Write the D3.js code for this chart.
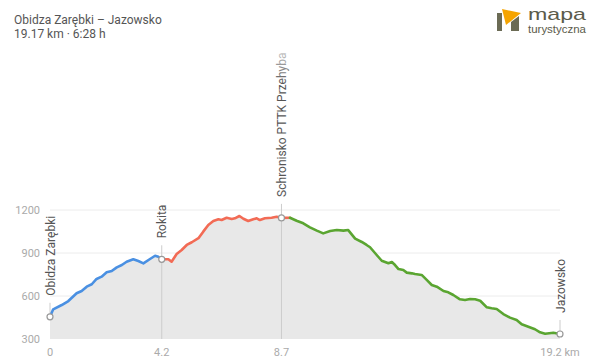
<!DOCTYPE html>
<html><head><meta charset="utf-8">
<script src="https://cdn.jsdelivr.net/npm/d3@7"></script>
<style>body{margin:0;background:#fff;}svg{display:block;font-family:Roboto,"Noto Sans",sans-serif;}</style>
</head><body><svg id="c" width="600" height="362"></svg>
<script>
const title = "Obidza Zarębki – Jazowsko";
const subtitle = "19.17 km · 6:28 h";
const km = [0,0.12,0.44,0.69,1.0,1.19,1.38,1.57,1.75,1.94,2.13,2.32,2.51,2.70,2.88,3.13,3.32,3.51,3.76,3.95,4.07,4.2,4.45,4.57,4.76,4.95,5.14,5.33,5.58,5.76,5.95,6.14,6.33,6.45,6.64,6.83,6.95,7.12,7.27,7.45,7.64,7.77,7.89,8.08,8.33,8.52,8.7,9.02,9.27,9.52,9.77,10.03,10.27,10.53,10.78,11.03,11.21,11.47,11.72,11.9,12.03,12.28,12.47,12.72,12.85,12.97,13.1,13.28,13.41,13.6,13.72,13.97,14.16,14.35,14.54,14.79,14.97,15.16,15.41,15.6,15.79,15.98,16.17,16.42,16.6,16.79,17.04,17.29,17.54,17.73,17.98,18.23,18.42,18.61,18.92,19.17];
const elev = [455,507,537,565,619,635,665,682,719,735,765,774,800,816,839,856,844,828,858,881,874,856,856,839,893,921,956,975,1003,1049,1095,1123,1135,1130,1146,1137,1142,1158,1139,1123,1135,1142,1130,1142,1146,1153,1145,1146,1125,1107,1079,1056,1037,1053,1060,1056,1060,1000,977,956,940,886,846,828,837,816,788,781,763,758,753,747,712,677,665,635,626,607,577,572,579,577,567,521,514,509,474,449,433,403,386,368,347,337,344,335];
const segStart = [0, 4.2, 9.02];
const segEnd = [4.2, 9.02, 19.17];
const segColor = ["#4a90e2", "#f26b55", "#5aa531"];
const wpNames = ["Obidza Zarębki", "Rokita", "Schronisko PTTK Przehyba", "Jazowsko"];
const wpKm = [0, 4.2, 8.7, 19.17];
const wpElev = [455, 856, 1145, 335];
const xTickVals = [0, 4.2, 8.7, 19.17];
const xTickLabels = ["0", "4.2", "8.7", "19.2 km"];
const yTicks = [300, 600, 900, 1200];

const svg = d3.select("#c");
const x = d3.scaleLinear().domain([0, 19.17]).range([50, 560]);
const y = d3.scaleLinear().domain([300, 1200]).range([339, 210]);
const pts = km.map((k, i) => ({k, e: elev[i]}));

// header
svg.append("text").attr("x", 14).attr("y", 24).attr("font-size", 12).attr("fill", "#555").text(title);
svg.append("text").attr("x", 14).attr("y", 38).attr("font-size", 12).attr("fill", "#555").text(subtitle);

// logo
const logo = svg.append("g");
logo.append("rect").attr("x", 497).attr("y", 13).attr("width", 5).attr("height", 18).attr("fill", "#6b6b55");
logo.append("path").attr("d", "M511,22 L519,16 L519,31 L511,31 Z").attr("fill", "#6b6b55");
logo.append("path").attr("d", "M502,9 L521,13 L506,25 Z").attr("fill", "#f5a400");
logo.append("text").attr("x", 528).attr("y", 20).attr("font-size", 17).attr("fill", "#5b5b4b")
  .attr("textLength", 58).attr("lengthAdjust", "spacingAndGlyphs")
  .attr("font-family", "'Liberation Sans', Arial, sans-serif").text("mapa");
logo.append("text").attr("x", 528).attr("y", 33).attr("font-size", 10).attr("fill", "#5b5b4b")
  .attr("textLength", 58).attr("lengthAdjust", "spacingAndGlyphs")
  .attr("font-family", "'Liberation Sans', Arial, sans-serif").text("turystyczna");

// grid
svg.append("g").selectAll("line").data(yTicks.filter(d => d > 300)).join("line")
  .attr("x1", x(0)).attr("x2", x(19.17)).attr("y1", d => y(d)).attr("y2", d => y(d))
  .attr("stroke", "#ececec").attr("stroke-width", 1);

// area
svg.append("path").datum(pts)
  .attr("d", d3.area().x(d => x(d.k)).y0(y(300)).y1(d => y(d.e)))
  .attr("fill", "#e8e8e8");

// y labels
svg.append("g").selectAll("text").data(yTicks).join("text")
  .attr("x", 40).attr("y", d => y(d) + 4).attr("text-anchor", "end")
  .attr("font-size", 11).attr("fill", "#aaa").text(d => d);
// x labels
svg.append("g").selectAll("text").data(xTickVals).join("text")
  .attr("x", d => x(d)).attr("y", 356).attr("text-anchor", "middle")
  .attr("font-size", 11).attr("fill", "#aaa").text((d, i) => xTickLabels[i]);

// waypoint vertical lines
const wp = wpNames.map((n, i) => ({n, k: wpKm[i], e: wpElev[i]}));
svg.append("g").selectAll("line").data(wp.filter(d => d.k > 0 && d.k < 19)).join("line")
  .attr("x1", d => x(d.k)).attr("x2", d => x(d.k)).attr("y1", y(300)).attr("y2", d => y(d.e))
  .attr("stroke", "#ccc").attr("stroke-width", 1);
svg.append("g").selectAll("line").data(wp).join("line")
  .attr("x1", d => x(d.k)).attr("x2", d => x(d.k)).attr("y1", d => y(d.e)).attr("y2", d => y(d.e) - 14)
  .attr("stroke", "#ccc").attr("stroke-width", 1);

// line segments
const line = d3.line().x(d => x(d.k)).y(d => y(d.e));
segColor.forEach((c, i) => {
  const seg = pts.filter(p => p.k >= segStart[i] - 1e-6 && p.k <= segEnd[i] + 1e-6);
  svg.append("path").datum(seg).attr("d", line)
    .attr("fill", "none").attr("stroke", c).attr("stroke-width", 2.6)
    .attr("stroke-linejoin", "round").attr("stroke-linecap", "round");
});

// gradient for fading the long label near the top
const defs = svg.append("defs");
const g = defs.append("linearGradient").attr("id", "fade")
  .attr("x1", 0).attr("y1", 0).attr("x2", 1).attr("y2", 0);
g.append("stop").attr("offset", 0.78).attr("stop-color", "#555").attr("stop-opacity", 1);
g.append("stop").attr("offset", 1).attr("stop-color", "#555").attr("stop-opacity", 0.35);

// markers
svg.append("g").selectAll("circle").data(wp).join("circle")
  .attr("cx", d => x(d.k)).attr("cy", d => y(d.e)).attr("r", 3)
  .attr("fill", "#fff").attr("stroke", "#999").attr("stroke-width", 1.2);

// labels
svg.append("g").selectAll("text").data(wp).join("text")
  .attr("transform", d => `translate(${x(d.k) + 4.5},${y(d.e) - 21}) rotate(-90)`)
  .attr("font-size", 12)
  .attr("fill", d => (y(d.e) - 21 < 200 ? "url(#fade)" : "#555"))
  .text(d => d.n);
</script></body></html>
